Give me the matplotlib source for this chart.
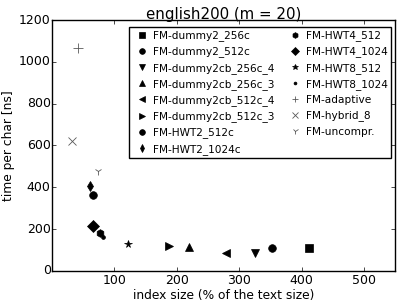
import matplotlib
matplotlib.use("Agg")
import matplotlib.pyplot as plt

plt.style.use("classic")

labels = ["FM-dummy2_256c", "FM-dummy2_512c", "FM-dummy2cb_256c_4", "FM-dummy2cb_256c_3",
          "FM-dummy2cb_512c_4", "FM-dummy2cb_512c_3", "FM-HWT2_512c", "FM-HWT2_1024c",
          "FM-HWT4_512", "FM-HWT4_1024", "FM-HWT8_512", "FM-HWT8_1024",
          "FM-adaptive", "FM-hybrid_8", "FM-uncompr."]
index_size = [411.5, 352, 325, 219.5, 278, 187, 65, 60, 76, 66, 122, 81, 41.5, 32, 73]
time_per_char = [110, 110, 85, 116, 85, 119, 363, 406, 180, 216, 127, 161, 1065, 622, 477]
markers = ["s", "o", "v", "^", "<", ">", "o", "d", "h", "D", "*", ".", "+", "x", "1"]
sizes = [5.5, 5.5, 5.5, 5.5, 5.5, 5.5, 5.5, 5.5, 5.5, 6, 5.5, 5.5, 6.5, 6, 6]

fig = plt.figure(figsize=(4.07, 3.05), dpi=100, facecolor="white")
ax = fig.add_axes([0.128, 0.112, 0.843, 0.822])

for x, y, m, s, lab in zip(index_size, time_per_char, markers, sizes, labels):
    if m in ["+", "x", "1"]:
        ax.plot([x], [y], m, color="0.35", markersize=s, markeredgewidth=0.6, label=lab)
    else:
        ax.plot([x], [y], m, color="black", markersize=s, label=lab)

ax.set_xlim(0, 550)
ax.set_ylim(0, 1200)
ax.set_xticks([100, 200, 300, 400, 500])
ax.set_yticks([0, 200, 400, 600, 800, 1000, 1200])
ax.tick_params(labelsize=9, length=3)
ax.tick_params(axis="x", pad=2.5)
ax.tick_params(axis="y", pad=1)
ax.set_xlabel("index size (% of the text size)", fontsize=8.8, labelpad=1)
ax.set_ylabel("time per char [ns]", fontsize=8.8, labelpad=3)
ax.set_title("english200 (m = 20)", fontsize=10.8, y=0.975)

ax.legend(loc="upper right", ncol=2, numpoints=1, fontsize=7.6, frameon=True,
          borderpad=0.3, labelspacing=0.5, handletextpad=0.05, columnspacing=0.9,
          handlelength=2.0, borderaxespad=0, bbox_to_anchor=(0.988, 0.972),
          markerscale=0.75)

fig.savefig("out.png", dpi=100, facecolor="white")
